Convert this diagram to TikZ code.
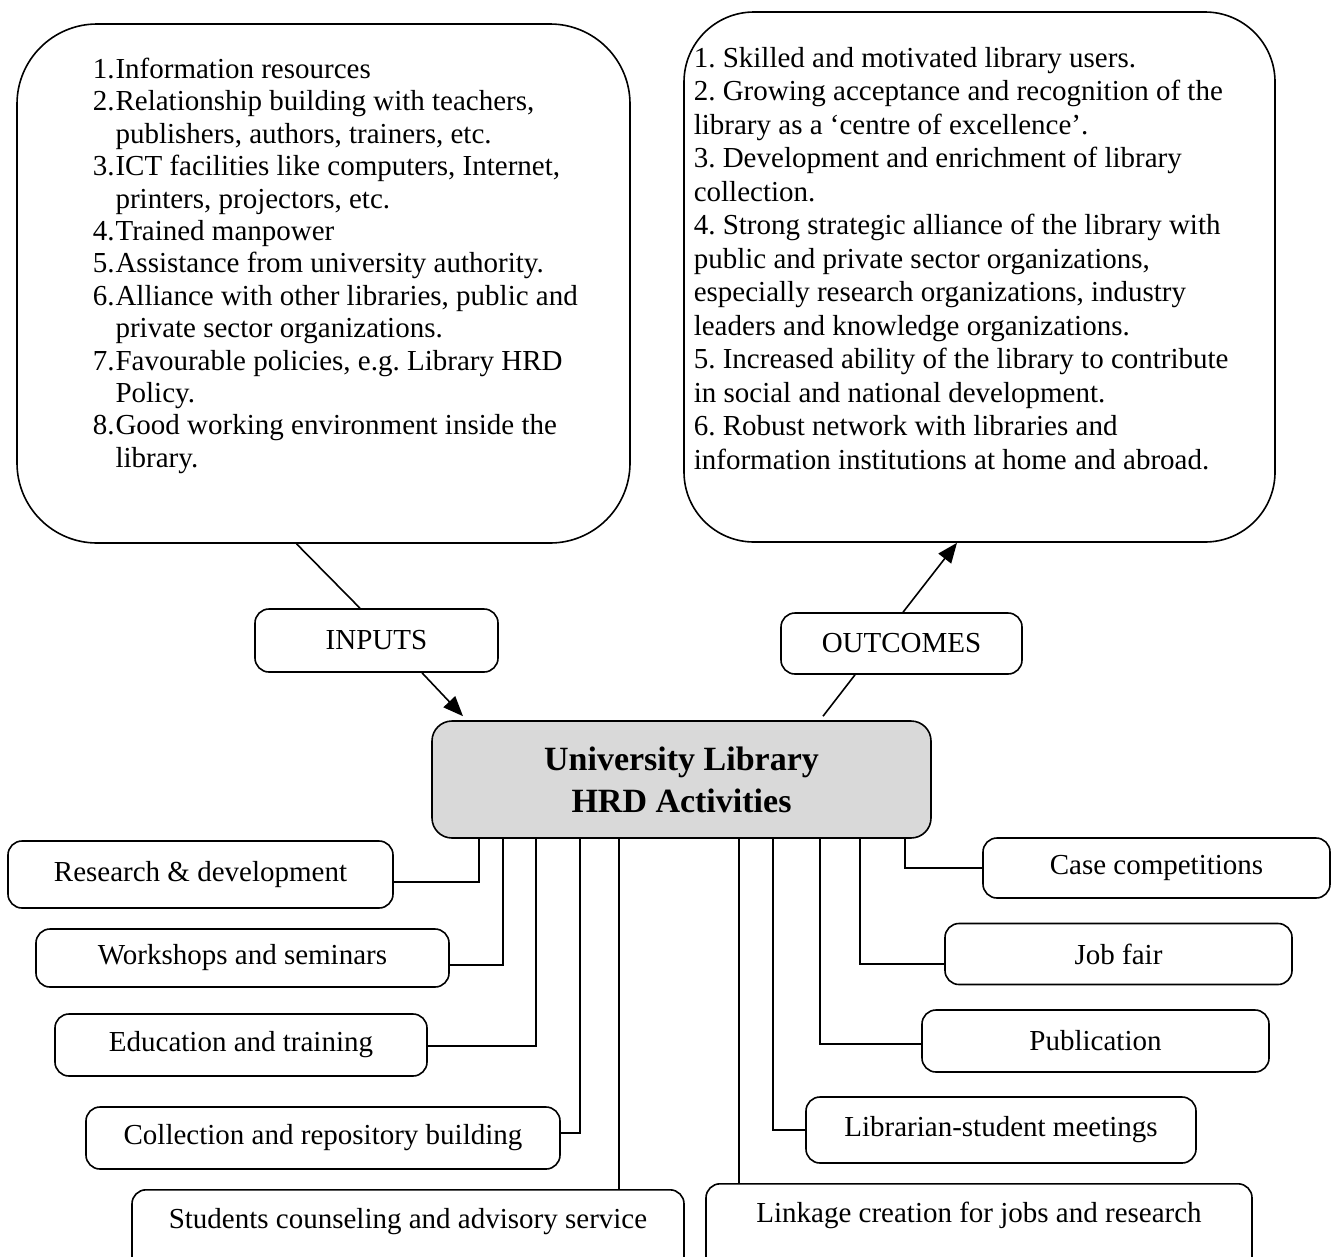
\documentclass[tikz,border=0pt]{standalone}
\usepackage{fontspec}
\setmainfont{Liberation Serif}
\usetikzlibrary{arrows.meta}
\frenchspacing

\begin{document}
\begin{tikzpicture}[x=1pt,y=-1pt,line width=1.6pt,
    bigbox/.style={draw,rounded corners=80pt,inner sep=0pt},
    listtext/.style={anchor=north west,inner sep=0pt},
    act/.style={draw,rounded corners=14pt,inner sep=0pt,font=\fontsize{29}{33}\selectfont},
    cutact/.style={act,anchor=north,text height=39pt,text depth=#1},
    hubbox/.style={draw,fill=gray!30,rounded corners=20pt,inner sep=0pt,align=center,
      font=\bfseries\fontsize{34}{42}\selectfont},
    flow/.style={-{Triangle[length=20pt,width=16pt]}}]
        \useasboundingbox (0,0) rectangle (1337,1256) ;
        %\draw[very thin,gray,step=50] (0,0) grid (1337,1256) ;

        % inputs and outcomes
        \node[bigbox,minimum width=613pt,minimum height=519pt] (inbox) at (323.5,283.5) {} ;
        \node[listtext,font=\fontsize{29}{32.4}\selectfont] (inlist) at (92,55)
        {\begin{tabular}{@{}l@{\hspace{1pt}}l@{}}
          1.&Information resources\\
          2.&Relationship building with teachers,\\
          &publishers, authors, trainers, etc.\\
          3.&ICT facilities like computers, Internet,\\
          &printers, projectors, etc.\\
          4.&Trained manpower\\
          5.&Assistance from university authority.\\
          6.&Alliance with other libraries, public and\\
          &private sector organizations.\\
          7.&Favourable policies, e.g. Library HRD\\
          &Policy.\\
          8.&Good working environment inside the\\
          &library.
        \end{tabular}} ;
        \node[bigbox,rounded corners=70pt,minimum width=591pt,minimum height=530pt] (outbox) at (979.5,277) {} ;
        \node[listtext,font=\fontsize{29}{33.5}\selectfont] (outlist) at (693,43)
        {\begin{tabular}{@{}l@{}}
          1. Skilled and motivated library users.\\
          2. Growing acceptance and recognition of the\\
          library as a `centre of excellence'.\\
          3. Development and enrichment of library\\
          collection.\\
          4. Strong strategic alliance of the library with\\
          public and private sector organizations,\\
          especially research organizations, industry\\
          leaders and knowledge organizations.\\
          5. Increased ability of the library to contribute\\
          in social and national development.\\
          6. Robust network with libraries and\\
          information institutions at home and abroad.
        \end{tabular}} ;

        \node[act,minimum width=243pt,minimum height=63pt] (inputs) at (376.5,640.5) {INPUTS} ;
        \node[act,minimum width=241pt,minimum height=61pt] (outcomes) at (901.5,643.5) {OUTCOMES} ;
        \node[hubbox,minimum width=499pt,minimum height=117pt] (hub) at (681.5,779.5)
        {University Library\\HRD Activities} ;

        % activities, left
        \node[act,minimum width=385pt,minimum height=67pt] (rd) at (200.5,874.5) {Research \& development} ;
        \node[act,minimum width=413pt,minimum height=58pt] (ws) at (242.5,958) {Workshops and seminars} ;
        \node[act,minimum width=372pt,minimum height=62pt] (et) at (241,1045) {Education and training} ;
        \node[act,minimum width=474pt,minimum height=62pt] (cr) at (323,1138) {Collection and repository building} ;
        \node[cutact=47pt,minimum width=552pt] (sc) at (408,1189) {Students counseling and advisory service} ;
        % activities, right
        \node[act,minimum width=347pt,minimum height=60pt] (cc) at (1156.5,868) {Case competitions} ;
        \node[act,minimum width=347pt,minimum height=61pt] (jf) at (1118.5,954) {Job fair} ;
        \node[act,minimum width=347pt,minimum height=62pt] (pb) at (1095.5,1041) {Publication} ;
        \node[act,minimum width=390pt,minimum height=66pt] (lm) at (1001,1130) {Librarian-student meetings} ;
        \node[cutact=53pt,minimum width=546pt] (lk) at (979,1183) {Linkage creation for jobs and research} ;

        \draw ([xshift=-27pt]inbox.south) -- ([xshift=-16.5pt]inputs.north) ;
        \draw[flow] ([xshift=45.5pt]inputs.south) -- ([xshift=-218.5pt,yshift=4pt]hub.north) ;
        \draw ([xshift=141.5pt,yshift=4pt]hub.north) -- ([xshift=-46.5pt]outcomes.south) ;
        \draw[flow] ([xshift=1.5pt]outcomes.north) -- ([xshift=-22.5pt]outbox.south) ;

        \foreach \n/\dx/\dy in {rd/-202.5/-7.5,ws/-178.5/-7,et/-145.5/-1,cr/-101.5/5}
          \draw ([yshift=\dy pt]\n.east) -| ([xshift=\dx pt]hub.south) ;
        \foreach \n/\dx/\dy in {cc/223.5/0,jf/178.5/-10,pb/138.5/-3,lm/91.5/0}
          \draw ([yshift=\dy pt]\n.west) -| ([xshift=\dx pt]hub.south) ;
        \draw ([xshift=-62.5pt]hub.south) -- ([xshift=211pt]sc.north) ;
        \draw ([xshift=57.5pt]hub.south) -- ([xshift=-240pt]lk.north) ;
      \end{tikzpicture}
\end{document}
